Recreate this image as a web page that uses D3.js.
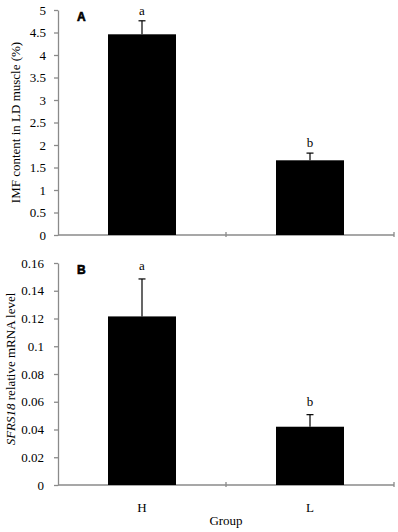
<!DOCTYPE html>
<html>
<head>
<meta charset="utf-8">
<script src="https://cdn.jsdelivr.net/npm/d3@7"></script>
<style>
  body { margin: 0; background: #fff; }
  svg { display: block; font-family: "Liberation Serif", "Times New Roman", serif; }
</style>
</head>
<body>
<script>
const WIDTH = 398;
const HEIGHT = 532;
const AXIS_COLOR = "#8a8a8a";

const GROUPS = ["H", "L"];
const LETTERS = ["a", "b"];

// panel A: IMF content
const IMF_MEAN = [4.46, 1.66];
const IMF_ERR = [0.30, 0.16];
const IMF_TICKS = [0, 0.5, 1, 1.5, 2, 2.5, 3, 3.5, 4, 4.5, 5];

// panel B: SFRS18 mRNA
const MRNA_MEAN = [0.1215, 0.042];
const MRNA_ERR = [0.027, 0.0087];
const MRNA_TICKS = [0, 0.02, 0.04, 0.06, 0.08, 0.1, 0.12, 0.14, 0.16];

const svg = d3.select("body").append("svg")
  .attr("width", WIDTH).attr("height", HEIGHT);

const x = d3.scaleBand().domain(GROUPS).range([58, 394]).paddingInner(0).paddingOuter(0);
const BAR_W = 68;

const panel = (opts) => {
  const { means, errs, ticks, top, bottom, tag, labelGap, tickPad } = opts;
  const y = d3.scaleLinear().domain([0, d3.max(ticks)]).range([bottom, top]);
  const g = svg.append("g");

  // y axis
  const yAxis = d3.axisLeft(y).tickValues(ticks).tickSize(4).tickSizeOuter(0)
    .tickPadding(tickPad).tickFormat(d => String(d));
  const ya = g.append("g").attr("transform", "translate(58,0)").call(yAxis);
  ya.select(".domain").attr("stroke", AXIS_COLOR).attr("stroke-width", 1.3);
  ya.selectAll(".tick line").attr("stroke", AXIS_COLOR).attr("stroke-width", 1.3);
  ya.selectAll(".tick text").attr("fill", "#000").style("font-size", "13px")
    .style("font-family", "Liberation Serif, serif");

  // x axis line with crossing ticks at band edges
  g.append("line").attr("x1", 58).attr("x2", 394).attr("y1", bottom).attr("y2", bottom)
    .attr("stroke", AXIS_COLOR).attr("stroke-width", 1.3);
  const edges = [x(GROUPS[1]), x(GROUPS[1]) + x.bandwidth()];
  g.selectAll(".xtick").data(edges).enter().append("line")
    .attr("x1", d => d).attr("x2", d => d)
    .attr("y1", bottom - 3).attr("y2", bottom + 2)
    .attr("stroke", AXIS_COLOR).attr("stroke-width", 1.3);

  // error bars (upper half)
  const cx = i => x(GROUPS[i]) + x.bandwidth() / 2;
  g.selectAll(".err").data(means).enter().append("line")
    .attr("x1", (d, i) => cx(i)).attr("x2", (d, i) => cx(i))
    .attr("y1", d => y(d)).attr("y2", (d, i) => y(d + errs[i]))
    .attr("stroke", "#000").attr("stroke-width", 1.2);
  g.selectAll(".cap").data(means).enter().append("line")
    .attr("x1", (d, i) => cx(i) - 3.5).attr("x2", (d, i) => cx(i) + 3.5)
    .attr("y1", (d, i) => y(d + errs[i])).attr("y2", (d, i) => y(d + errs[i]))
    .attr("stroke", "#000").attr("stroke-width", 1.2);

  // bars
  g.selectAll(".bar").data(means).enter().append("rect")
    .attr("x", (d, i) => cx(i) - BAR_W / 2)
    .attr("width", BAR_W)
    .attr("y", d => y(d))
    .attr("height", d => bottom - y(d))
    .attr("fill", "#000");

  // significance letters
  g.selectAll(".sig").data(means).enter().append("text")
    .attr("x", (d, i) => cx(i))
    .attr("y", (d, i) => y(d + errs[i]) - labelGap)
    .attr("text-anchor", "middle")
    .style("font-size", "13px")
    .text((d, i) => LETTERS[i]);

  // panel tag
  g.append("text").attr("x", 77).attr("y", top + 11)
    .style("font-family", "Liberation Sans, Arial, sans-serif")
    .style("font-weight", "bold").style("font-size", "12px")
    .style("stroke", "#000").style("stroke-width", 0.6)
    .text(tag);

  return { g, y };
};

panel({
  means: IMF_MEAN, errs: IMF_ERR, ticks: IMF_TICKS,
  top: 10, bottom: 235, tag: "A", labelGap: 6, tickPad: 8
});
panel({
  means: MRNA_MEAN, errs: MRNA_ERR, ticks: MRNA_TICKS,
  top: 263, bottom: 485, tag: "B", labelGap: 9, tickPad: 10
});

// y axis titles
svg.append("text")
  .attr("transform", "translate(20," + ((10 + 235) / 2) + ") rotate(-90)")
  .attr("text-anchor", "middle").style("font-size", "13px")
  .text("IMF content in LD muscle (%)");

const titleB = svg.append("text")
  .attr("transform", "translate(15," + 369 + ") rotate(-90)")
  .attr("text-anchor", "middle").style("font-size", "13px");
titleB.append("tspan").style("font-style", "italic").text("SFRS18");
titleB.append("tspan").text(" relative mRNA level");

// category labels
svg.selectAll(".cat").data(GROUPS).enter().append("text")
  .attr("x", d => x(d) + x.bandwidth() / 2)
  .attr("y", 512)
  .attr("text-anchor", "middle").style("font-size", "13px")
  .text(d => d);

svg.append("text").attr("x", 226).attr("y", 525)
  .attr("text-anchor", "middle").style("font-size", "13px")
  .text("Group");
</script>
</body>
</html>
